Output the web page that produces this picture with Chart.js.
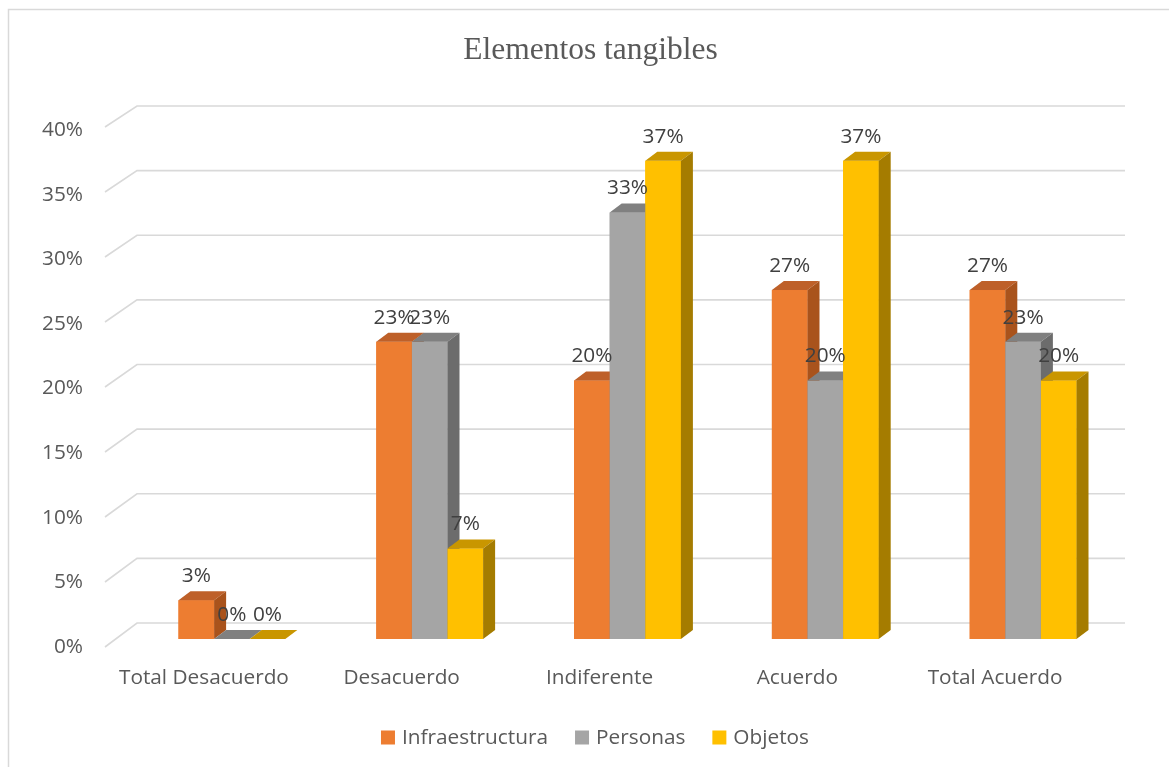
<!DOCTYPE html>
<html>
<head>
<meta charset="utf-8">
<script src="https://cdn.jsdelivr.net/npm/chart.js@4.4.1/dist/chart.umd.min.js"></script>
<style>
  html, body { margin: 0; padding: 0; background: #ffffff; }
  canvas { display: block; }
</style>
</head>
<body>
<canvas id="chart" width="1169" height="767"></canvas>
<script>
// Survey answers per category, in percent
const categories = ['Total Desacuerdo', 'Desacuerdo', 'Indiferente', 'Acuerdo', 'Total Acuerdo'];
const infraestructura = [3, 23, 20, 27, 27];
const personas = [0, 23, 33, 20, 23];
const objetos = [0, 7, 37, 37, 20];
const seriesNames = ['Infraestructura', 'Personas', 'Objetos'];
const yTickLabels = ['0%', '5%', '10%', '15%', '20%', '25%', '30%', '35%', '40%'];
const titleText = 'Elementos tangibles';

// Face colours for the pseudo-3D columns: front, top, right side
const palette = [
  { front: '#ED7D31', top: '#BE6029', side: '#A9531C' },
  { front: '#A5A5A5', top: '#808080', side: '#6C6C6C' },
  { front: '#FFC000', top: '#C99600', side: '#A57C00' }
];
const DEPTH_X = 12, DEPTH_Y = -9;          // column depth
const WALL_FRONT_X = -28, WALL_BACK_X = 4; // floor/wall perspective
const SANS = "'Open Sans', 'Noto Sans', sans-serif";
const FONT_SIZE = 20.8;

// Perspective gridlines: a short diagonal from the front edge up to the back wall,
// then a horizontal line across the wall.
const wallGrid = {
  id: 'wallGrid',
  beforeDatasetsDraw(chart) {
    const { ctx, chartArea: ca, scales: { y } } = chart;
    ctx.save();
    ctx.strokeStyle = '#D9D9D9';
    ctx.lineWidth = 1.6;
    y.ticks.forEach(t => {
      const py = y.getPixelForValue(t.value);
      const frac = t.value / y.max;
      const fy = py + 8 - 3 * frac;
      const by = py - 16;
      ctx.beginPath();
      ctx.moveTo(ca.left + WALL_FRONT_X, fy);
      ctx.lineTo(ca.left + WALL_BACK_X, by);
      ctx.lineTo(ca.right + 3, by);
      ctx.stroke();
    });
    ctx.restore();
  }
};

// Columns with top and side faces, then the value labels
const columns3d = {
  id: 'columns3d',
  afterDatasetsDraw(chart) {
    const ctx = chart.ctx;
    ctx.save();
    const labels = [];
    chart.data.datasets.forEach((ds, di) => {
      const meta = chart.getDatasetMeta(di);
      const c = palette[di];
      meta.data.forEach((bar, i) => {
        const { x, y, base, width } = bar.getProps(['x', 'y', 'base', 'width'], true);
        const l = x - width / 2, r = x + width / 2;
        ctx.fillStyle = c.front;
        ctx.fillRect(l, y, width, base - y);
        ctx.fillStyle = c.top;
        ctx.beginPath();
        ctx.moveTo(l, y);
        ctx.lineTo(l + DEPTH_X, y + DEPTH_Y);
        ctx.lineTo(r + DEPTH_X, y + DEPTH_Y);
        ctx.lineTo(r, y);
        ctx.closePath();
        ctx.fill();
        ctx.fillStyle = c.side;
        ctx.beginPath();
        ctx.moveTo(r, y);
        ctx.lineTo(r + DEPTH_X, y + DEPTH_Y);
        ctx.lineTo(r + DEPTH_X, base + DEPTH_Y);
        ctx.lineTo(r, base);
        ctx.closePath();
        ctx.fill();
        labels.push({ x, y, text: ds.data[i] + '%' });
      });
    });
    ctx.fillStyle = '#404040';
    ctx.font = FONT_SIZE + 'px ' + SANS;
    ctx.textAlign = 'center';
    ctx.textBaseline = 'middle';
    labels.forEach(p => ctx.fillText(p.text, p.x, p.y - 24));
    ctx.restore();
  }
};

// Title, legend and outer frame
const decorations = {
  id: 'decorations',
  afterDraw(chart) {
    const { ctx } = chart;
    ctx.save();
    ctx.strokeStyle = '#D9D9D9';
    ctx.lineWidth = 1.5;
    ctx.beginPath();
    ctx.moveTo(8.5, 767);
    ctx.lineTo(8.5, 9.5);
    ctx.lineTo(1169, 9.5);
    ctx.stroke();

    ctx.fillStyle = '#595959';
    ctx.font = "31.5px 'Liberation Serif', 'Times New Roman', serif";
    ctx.textAlign = 'center';
    ctx.textBaseline = 'alphabetic';
    ctx.fillText(titleText, 590.5, 59);

    ctx.font = FONT_SIZE + 'px ' + SANS;
    ctx.textBaseline = 'middle';
    ctx.textAlign = 'left';
    const box = 14, gapText = 7, gapItem = 27;
    const items = chart.data.datasets.map((ds, i) => ({
      label: ds.label, color: palette[i].front, w: ctx.measureText(ds.label).width
    }));
    const total = items.reduce((s, it) => s + box + gapText + it.w, 0) + gapItem * (items.length - 1);
    let x = 595 - total / 2;
    const cy = 737.5;
    items.forEach(it => {
      ctx.fillStyle = it.color;
      ctx.fillRect(x, cy - box / 2, box, box);
      ctx.fillStyle = '#595959';
      ctx.fillText(it.label, x + box + gapText, cy + 1);
      x += box + gapText + it.w + gapItem;
    });
    ctx.restore();
  }
};

const seriesValues = [infraestructura, personas, objetos];

new Chart(document.getElementById('chart'), {
  type: 'bar',
  data: {
    labels: categories,
    datasets: seriesNames.map((name, i) => ({
      label: name,
      data: seriesValues[i],
      backgroundColor: palette[i].front,
      borderWidth: 0,
      categoryPercentage: 0.54,
      barPercentage: 1
    }))
  },
  options: {
    responsive: false,
    animation: false,
    devicePixelRatio: 1,
    layout: { padding: { left: 0, right: 47, top: 122, bottom: 68 } },
    plugins: {
      legend: { display: false },
      title: { display: false },
      tooltip: { enabled: false }
    },
    scales: {
      x: {
        offset: true,
        grid: { display: false, drawTicks: false },
        border: { display: false },
        ticks: {
          color: '#595959',
          font: { family: SANS, size: FONT_SIZE },
          padding: 27,
          labelOffset: -28,
          maxRotation: 0,
          autoSkip: false
        },
        afterFit(s) { s.height = 60; }
      },
      y: {
        min: 0,
        max: 40,
        grid: { display: false, drawTicks: false },
        border: { display: false },
        ticks: {
          stepSize: 5,
          color: '#595959',
          font: { family: SANS, size: FONT_SIZE },
          padding: 50,
          labelOffset: 8,
          callback: (v, idx) => yTickLabels[idx]
        },
        afterFit(s) { s.width = 133; }
      }
    }
  },
  plugins: [wallGrid, columns3d, decorations]
});
</script>
</body>
</html>
